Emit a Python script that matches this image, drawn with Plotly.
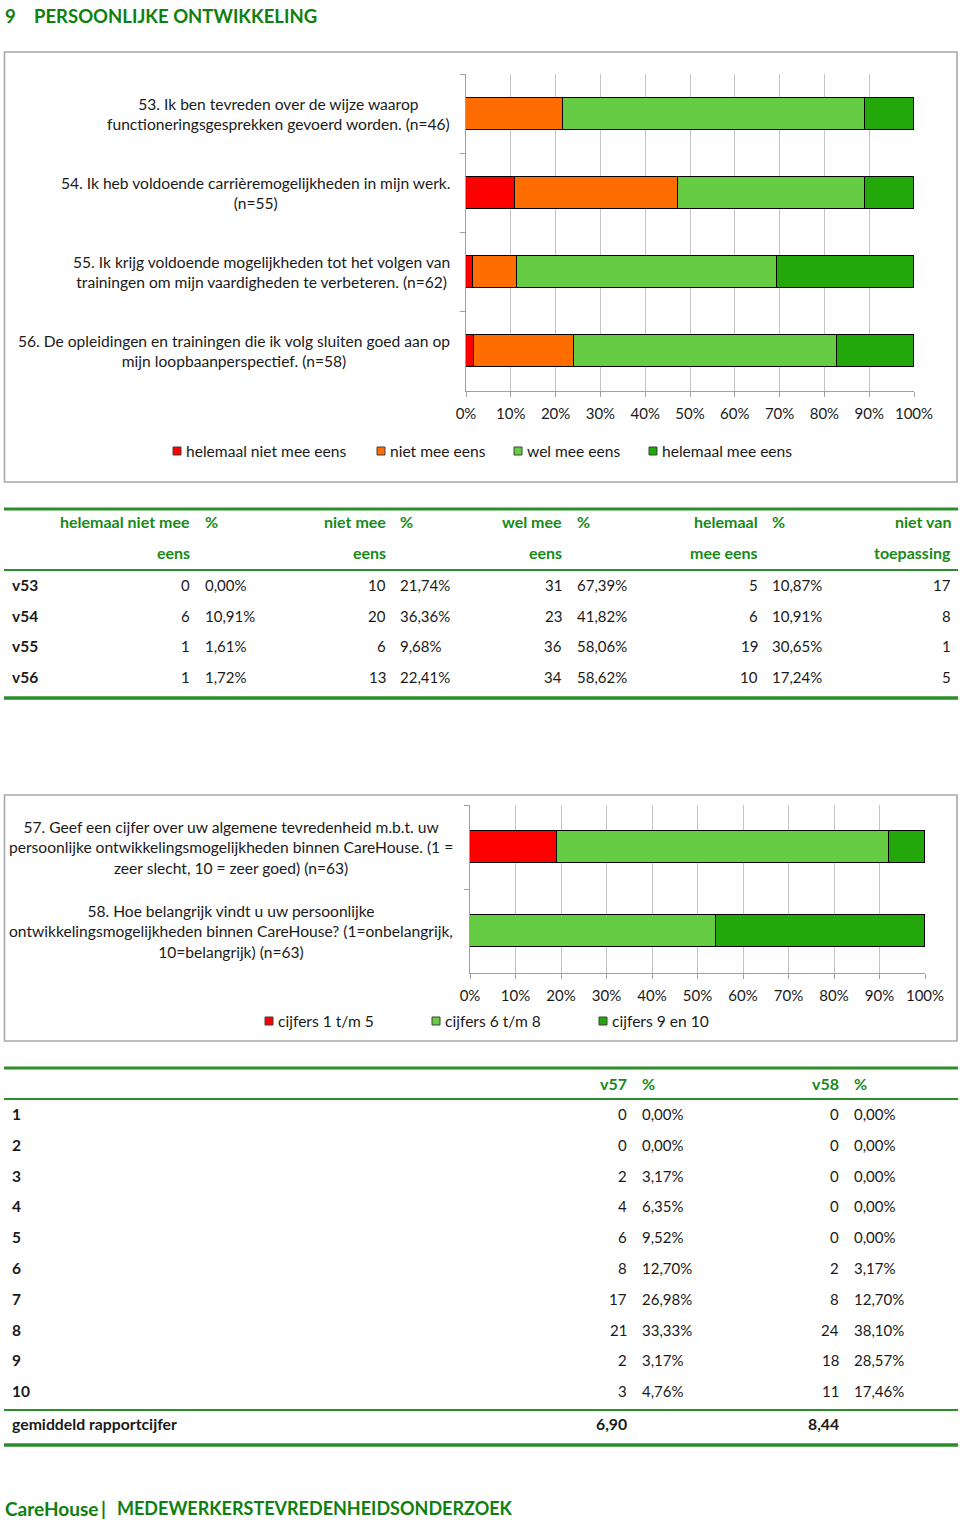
import plotly.graph_objects as go

W, H = 960, 1524

def px(x):
    return x / W

def py(y):
    return 1 - y / H

# ---------------- data ----------------
title_num = "9"
title_text = "PERSOONLIJKE ONTWIKKELING"
footer_brand = "CareHouse"
footer_sep = "|"
footer_text = "MEDEWERKERSTEVREDENHEIDSONDERZOEK"

q_codes = ["v53", "v54", "v55", "v56"]
q_labels = [
    "53. Ik ben tevreden over de wijze waarop<br>functioneringsgesprekken gevoerd worden. (n=46)",
    "54. Ik heb voldoende carrièremogelijkheden in mijn werk.<br>(n=55)",
    "55. Ik krijg voldoende mogelijkheden tot het volgen van<br>trainingen om mijn vaardigheden te verbeteren. (n=62)",
    "56. De opleidingen en trainingen die ik volg sluiten goed aan op<br>mijn loopbaanperspectief. (n=58)",
]
series1_names = ["helemaal niet mee eens", "niet mee eens", "wel mee eens", "helemaal mee eens"]
series1_colors = ["#ff0000", "#ff6d00", "#66cc44", "#22a80a"]

cnt_hn = [0, 6, 1, 1]
pct_hn = [0.00, 10.91, 1.61, 1.72]
cnt_n = [10, 20, 6, 13]
pct_n = [21.74, 36.36, 9.68, 22.41]
cnt_w = [31, 23, 36, 34]
pct_w = [67.39, 41.82, 58.06, 58.62]
cnt_h = [5, 6, 19, 10]
pct_h = [10.87, 10.91, 30.65, 17.24]
cnt_nvt = [17, 8, 1, 5]

tbl1_head_top = ["helemaal niet mee", "%", "niet mee", "%", "wel mee", "%", "helemaal", "%", "niet van"]
tbl1_head_bot = ["eens", "", "eens", "", "eens", "", "mee eens", "", "toepassing"]

g_codes = ["v57", "v58"]
g_labels = [
    "57. Geef een cijfer over uw algemene tevredenheid m.b.t. uw<br>persoonlijke ontwikkelingsmogelijkheden binnen CareHouse. (1 =<br>zeer slecht, 10 = zeer goed) (n=63)",
    "58. Hoe belangrijk vindt u uw persoonlijke<br>ontwikkelingsmogelijkheden binnen CareHouse? (1=onbelangrijk,<br>10=belangrijk) (n=63)",
]
series2_names = ["cijfers 1 t/m 5", "cijfers 6 t/m 8", "cijfers 9 en 10"]
series2_colors = ["#ff0000", "#66cc44", "#22a80a"]
grp_low = [19.05, 0.00]
grp_mid = [73.02, 53.97]
grp_high = [7.94, 46.03]

grades = ["1", "2", "3", "4", "5", "6", "7", "8", "9", "10"]
v57_cnt = [0, 0, 2, 4, 6, 8, 17, 21, 2, 3]
v57_pct = [0.00, 0.00, 3.17, 6.35, 9.52, 12.70, 26.98, 33.33, 3.17, 4.76]
v58_cnt = [0, 0, 0, 0, 0, 2, 8, 24, 18, 11]
v58_pct = [0.00, 0.00, 0.00, 0.00, 0.00, 3.17, 12.70, 38.10, 28.57, 17.46]
tbl2_head = ["v57", "%", "v58", "%"]
avg_label = "gemiddeld rapportcijfer"
avg_vals = ["6,90", "8,44"]

# ---------------- style ----------------
FONT = "Lato"
TXT = "#1a1a1a"
GREEN = "#178a17"
TITLEGREEN = "#0f800f"
LINEGREEN = "#2a8f2a"
GRID = "#c4c4c4"
AXIS = "#a0a0a0"

def fmt_pct(v):
    return f"{v:.2f}".replace(".", ",") + "%"

fig = go.Figure()

# chart 1 bars
pcts1 = [pct_hn, pct_n, pct_w, pct_h]
for name, col, vals in zip(series1_names, series1_colors, pcts1):
    fig.add_trace(go.Bar(
        x=[v / 100 for v in vals], y=q_codes, orientation="h", name=name,
        marker=dict(color=col, line=dict(color="#000000", width=1.3)),
        width=0.405, xaxis="x", yaxis="y", hoverinfo="skip",
    ))

# chart 2 bars
pcts2 = [grp_low, grp_mid, grp_high]
for name, col, vals in zip(series2_names, series2_colors, pcts2):
    fig.add_trace(go.Bar(
        x=[v / 100 for v in vals], y=g_codes, orientation="h", name=name,
        marker=dict(color=col, line=dict(color="#000000", width=1.3)),
        width=0.39, xaxis="x2", yaxis="y2", hoverinfo="skip",
    ))

xcommon = dict(range=[0, 1], dtick=0.1, tickformat=".0%", showgrid=True, gridcolor=GRID,
               gridwidth=1, showline=True, linecolor=AXIS, linewidth=1, ticks="outside",
               ticklen=5, tickcolor=AXIS, zeroline=False, fixedrange=True, automargin=False,
               tickfont=dict(family=FONT, size=15, color=TXT), ticklabelstandoff=4)
ycommon = dict(type="category", autorange="reversed", showline=True, linecolor=AXIS,
               linewidth=1, ticks="outside", tickson="boundaries", ticklen=5, tickcolor=AXIS,
               showticklabels=False, showgrid=False, zeroline=False, fixedrange=True,
               automargin=False)

annotations = []
shapes = []

# chart boxes
for (x0, y0, x1, y1) in [(4.5, 52, 957, 482), (4.5, 795, 957, 1041)]:
    shapes.append(dict(type="rect", xref="paper", yref="paper", x0=px(x0), x1=px(x1),
                       y0=py(y0), y1=py(y1), line=dict(color="#a8a8a8", width=1.6),
                       fillcolor="rgba(0,0,0,0)", layer="below"))

# question labels
for code, lab in zip(q_codes, q_labels):
    annotations.append(dict(x=px(450), xref="paper", y=code, yref="y", text=lab,
                            xanchor="right", yanchor="middle", align="center", showarrow=False,
                            borderpad=0, borderwidth=0,
                            font=dict(family=FONT, size=15.6, color=TXT)))
for code, lab in zip(g_codes, g_labels):
    annotations.append(dict(x=px(453), xref="paper", y=code, yref="y2", text=lab,
                            xanchor="right", yanchor="middle", align="center", showarrow=False,
                            borderpad=0, borderwidth=0,
                            font=dict(family=FONT, size=15.6, color=TXT)))

# legends (manual)
def legend(names, colors, xs, yc):
    for n, c, x in zip(names, colors, xs):
        shapes.append(dict(type="rect", xref="paper", yref="paper", x0=px(x), x1=px(x + 8),
                           y0=py(yc + 4), y1=py(yc - 4), fillcolor=c,
                           line=dict(color="#404040", width=1)))
        annotations.append(dict(x=px(x + 13), xref="paper", y=py(yc), yref="paper", text=n,
                                xanchor="left", yanchor="middle", showarrow=False,
                                borderpad=0, borderwidth=0,
                                font=dict(family=FONT, size=15.6, color=TXT)))

legend(series1_names, series1_colors, [173, 377, 514, 649], 451)
legend(series2_names, series2_colors, [265, 432, 599], 1021)

def txt(x, y, s, anchor="left", bold=False, color=TXT, size=15):
    annotations.append(dict(x=px(x), xref="paper", y=py(y), yref="paper",
                            text=f"<b>{s}</b>" if bold else s, xanchor=anchor, yanchor="middle",
                            showarrow=False, borderpad=0, borderwidth=0,
                            font=dict(family=FONT, size=size, color=color)))

def hline(y, w):
    shapes.append(dict(type="line", xref="paper", yref="paper", x0=px(4), x1=px(958),
                       y0=py(y), y1=py(y), line=dict(color=LINEGREEN, width=w)))

# title
txt(5, 16, title_num, bold=True, color=TITLEGREEN, size=18.5)
txt(34, 16, title_text, bold=True, color=TITLEGREEN, size=18.5)

# table 1
col_x = [190, 205, 386, 400, 562, 577, 758, 772, 951]
col_anchor = ["right", "left", "right", "left", "right", "left", "right", "left", "right"]
hline(509, 3)
hline(570, 2)
hline(698, 3.5)
for x, a, t, b in zip(col_x, col_anchor, tbl1_head_top, tbl1_head_bot):
    txt(x, 521, t, anchor=a, bold=True, color=GREEN, size=16)
    if b:
        txt(x, 552, b, anchor=a, bold=True, color=GREEN, size=16)
row_y = [585, 615.5, 646, 677]
for i, code in enumerate(q_codes):
    y = row_y[i]
    txt(12, y, code, bold=True, size=15.5)
    vals = [str(cnt_hn[i]), fmt_pct(pct_hn[i]), str(cnt_n[i]), fmt_pct(pct_n[i]),
            str(cnt_w[i]), fmt_pct(pct_w[i]), str(cnt_h[i]), fmt_pct(pct_h[i]), str(cnt_nvt[i])]
    for x, a, v in zip(col_x, col_anchor, vals):
        txt(x, y, v, anchor=a)

# table 2
hline(1068, 3)
hline(1099, 2)
hline(1410, 2)
hline(1445, 3.5)
t2x = [627, 642, 839, 854]
t2a = ["right", "left", "right", "left"]
for x, a, t in zip(t2x, t2a, tbl2_head):
    txt(x, 1083, t, anchor=a, bold=True, color=GREEN, size=16)
for i, g in enumerate(grades):
    y = 1114 + i * 30.8
    txt(12, y, g, bold=True, size=15.5)
    vals = [str(v57_cnt[i]), fmt_pct(v57_pct[i]), str(v58_cnt[i]), fmt_pct(v58_pct[i])]
    for x, a, v in zip(t2x, t2a, vals):
        txt(x, y, v, anchor=a)
txt(12, 1423, avg_label, bold=True, size=15.8)
txt(627, 1423, avg_vals[0], anchor="right", bold=True, size=15.8)
txt(839, 1423, avg_vals[1], anchor="right", bold=True, size=15.8)

# footer
txt(5, 1508, footer_brand, bold=True, color=TITLEGREEN, size=19)
txt(101, 1508, footer_sep, bold=True, color=TITLEGREEN, size=19)
txt(117, 1508, footer_text, bold=True, color=TITLEGREEN, size=18)

fig.update_layout(
    width=W, height=H, margin=dict(l=0, r=0, t=0, b=0, autoexpand=False),
    paper_bgcolor="white", plot_bgcolor="white", showlegend=False, barmode="stack",
    xaxis=dict(domain=[px(466), px(914)], anchor="y", **xcommon),
    yaxis=dict(domain=[py(391), py(74)], anchor="x", categoryarray=q_codes, **ycommon),
    xaxis2=dict(domain=[px(470), px(925)], anchor="y2", **xcommon),
    yaxis2=dict(domain=[py(973), py(805)], anchor="x2", categoryarray=g_codes, **ycommon),
    annotations=annotations, shapes=shapes, bargap=0,
)

fig.write_html("out.html")
